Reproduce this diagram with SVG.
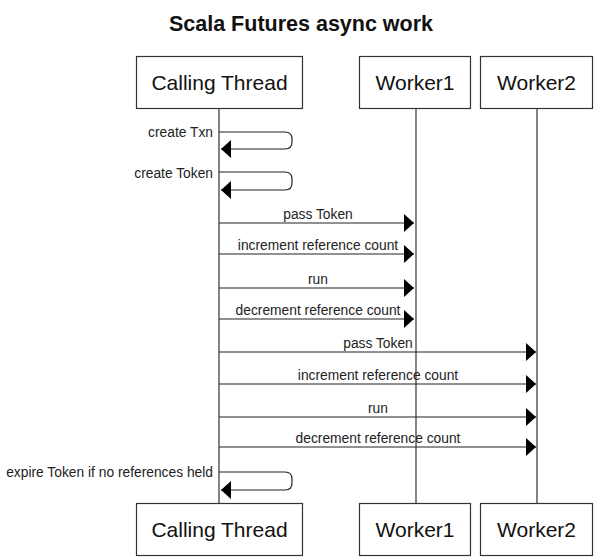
<svg xmlns="http://www.w3.org/2000/svg" width="605" height="560" viewBox="0 0 605 560">
<style>
.box{fill:#fff;stroke:#333;stroke-width:1.2}
.lbl{font-family:"Liberation Sans",Arial,sans-serif;font-size:21px;fill:#111;text-anchor:middle}
.life{stroke:#333;stroke-width:1.2;fill:none}
.msg{stroke:#222;stroke-width:1.2;fill:none;marker-end:url(#ah)}
.mt{font-family:"Liberation Sans",Arial,sans-serif;font-size:13.8px;fill:#222;text-anchor:middle}
.st{font-family:"Liberation Sans",Arial,sans-serif;font-size:13.8px;fill:#222;text-anchor:end}
</style>
<defs>
<marker id="ah" markerUnits="userSpaceOnUse" markerWidth="11" markerHeight="19" refX="10" refY="9" orient="auto" viewBox="0 0 11 19">
<path d="M0,0 L10,9 L0,18 z" fill="#000"/>
</marker>
</defs>
<rect width="605" height="560" fill="#fff"/>
<text x="301" y="31" font-family="'Liberation Sans',Arial,sans-serif" font-size="21.5" font-weight="bold" text-anchor="middle" fill="#111">Scala Futures async work</text>
<g id="lifelines">
<line class="life" x1="219" y1="108" x2="219" y2="503"/>
<line class="life" x1="416" y1="108" x2="416" y2="503"/>
<line class="life" x1="537" y1="108" x2="537" y2="503"/>
</g>
<g id="calling-thread-top"><rect class="box" x="136.5" y="56.5" width="166" height="52"/><text class="lbl" x="219.5" y="90">Calling Thread</text></g>
<g id="worker1-top"><rect class="box" x="359.5" y="56.5" width="111" height="52"/><text class="lbl" x="415" y="90">Worker1</text></g>
<g id="worker2-top"><rect class="box" x="480.5" y="56.5" width="112" height="52"/><text class="lbl" x="536.5" y="90">Worker2</text></g>
<g id="calling-thread-bottom"><rect class="box" x="136.5" y="503.5" width="166" height="52"/><text class="lbl" x="219.5" y="537">Calling Thread</text></g>
<g id="worker1-bottom"><rect class="box" x="359.5" y="503.5" width="111" height="52"/><text class="lbl" x="415" y="537">Worker1</text></g>
<g id="worker2-bottom"><rect class="box" x="480.5" y="503.5" width="112" height="52"/><text class="lbl" x="536.5" y="537">Worker2</text></g>
<g id="connectors">
<path class="msg" d="M219,132 H285 Q292,132 292,139 V142 Q292,149 285,149 H221"/>
<text class="st" x="213" y="137">create Txn</text>
<path class="msg" d="M219,172 H285 Q292,172 292,179 V183 Q292,190 285,190 H221"/>
<text class="st" x="213" y="178">create Token</text>
<line class="msg" x1="219" y1="223" x2="414" y2="223"/>
<text class="mt" x="318" y="218.5">pass Token</text>
<line class="msg" x1="219" y1="254" x2="414" y2="254"/>
<text class="mt" x="318" y="250">increment reference count</text>
<line class="msg" x1="219" y1="288" x2="414" y2="288"/>
<text class="mt" x="318" y="283.5">run</text>
<line class="msg" x1="219" y1="319" x2="414" y2="319"/>
<text class="mt" x="318" y="315">decrement reference count</text>
<line class="msg" x1="219" y1="352" x2="536" y2="352"/>
<text class="mt" x="378" y="347.5">pass Token</text>
<line class="msg" x1="219" y1="384" x2="536" y2="384"/>
<text class="mt" x="378" y="380">increment reference count</text>
<line class="msg" x1="219" y1="417" x2="536" y2="417"/>
<text class="mt" x="378" y="412.5">run</text>
<line class="msg" x1="219" y1="447" x2="536" y2="447"/>
<text class="mt" x="378" y="443">decrement reference count</text>
<path class="msg" d="M219,472 H285 Q292,472 292,479 V483 Q292,490 285,490 H221"/>
<text class="st" x="213" y="476.5">expire Token if no references held</text>
</g>
</svg>
